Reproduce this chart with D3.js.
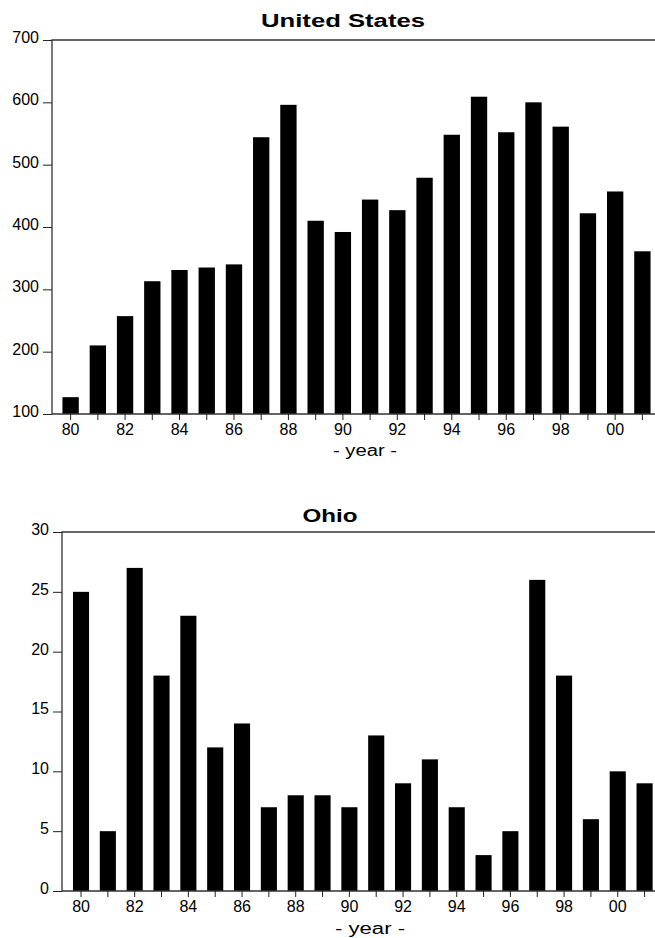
<!DOCTYPE html>
<meta charset="utf-8">
<head>
<style>
body {margin:0; background:#fff;}
svg text {font-family: "Liberation Sans", Arial, sans-serif; fill:#000;}
.title {font-weight:bold; font-size:18px;}
.axis text {font-size:16px;}
.axis line {stroke:#222;}
.frame {stroke:#333; stroke-width:1.3; fill:none;}
</style>
</head>
<body>
<div id="chart"></div>
<script src="https://d3js.org/d3.v7.min.js"></script>
<script>

// data
const years = d3.range(1980, 2002);
const usValues = [127, 210, 257, 313, 331, 335, 340, 544, 596, 410, 392,
                  444, 427, 479, 548, 609, 552, 600, 561, 422, 457, 361];
const ohioValues = [25, 5, 27, 18, 23, 12, 14, 7, 8, 8, 7,
                    13, 9, 11, 7, 3, 5, 26, 18, 6, 10, 9];
const usTicks = [100, 200, 300, 400, 500, 600, 700];
const ohioTicks = [0, 5, 10, 15, 20, 25, 30];

const svg = d3.select('#chart').append('svg')
  .attr('width', 655)
  .attr('height', 938);

// draws one panel
function panel(opt) {
  const g = svg.append('g');

  const x = d3.scaleBand()
    .domain(years)
    .range([opt.x0, opt.x1])
    .paddingInner(0.4)
    .paddingOuter(0.2);

  const y = d3.scaleLinear()
    .domain(opt.domain)
    .range([opt.bottom, opt.top]);

  g.selectAll('rect')
    .data(opt.values)
    .enter()
    .append('rect')
    .attr('x', (d, i) => x(years[i]))
    .attr('width', x.bandwidth())
    .attr('y', d => y(d))
    .attr('height', d => y(opt.domain[0]) - y(d))
    .attr('fill', '#000');

  // left, top and bottom lines
  g.append('path')
    .attr('class', 'frame')
    .attr('d', `M655,${opt.top}H${opt.axisX}V${opt.bottom}H655`);

  const yAxis = g.append('g')
    .attr('class', 'axis')
    .attr('transform', `translate(${opt.axisX},0)`)
    .call(d3.axisLeft(y).tickValues(opt.ticks).tickSize(9).tickPadding(4).tickFormat(d3.format('d')));
  yAxis.select('.domain').remove();
  yAxis.selectAll('text').attr('dy', '0.15em');

  const xAxis = g.append('g')
    .attr('class', 'axis')
    .attr('transform', `translate(0,${opt.bottom})`)
    .call(d3.axisBottom(x).tickSize(6).tickPadding(5)
      .tickFormat(d => d % 2 === 0 ? String(d).slice(2) : ''));
  xAxis.select('.domain').remove();
  xAxis.selectAll('text').attr('dy', '0.62em');

  g.append('text')
    .attr('class', 'title')
    .attr('x', opt.titleX)
    .attr('y', opt.titleY)
    .attr('text-anchor', 'middle')
    .attr('textLength', opt.titleW)
    .attr('lengthAdjust', 'spacingAndGlyphs')
    .text(opt.title);

  g.append('text')
    .attr('x', opt.labelX)
    .attr('y', opt.labelY)
    .attr('text-anchor', 'middle')
    .attr('textLength', opt.labelW)
    .attr('lengthAdjust', 'spacingAndGlyphs')
    .style('font-size', '16px')
    .text('- year -');
}

panel({
  title: 'United States', titleX: 343, titleY: 27, titleW: 164,
  values: usValues, ticks: usTicks, domain: [100, 700],
  axisX: 52, x0: 57, x1: 656, top: 40, bottom: 414,
  labelX: 365, labelY: 456, labelW: 64
});

panel({
  title: 'Ohio', titleX: 330, titleY: 522, titleW: 55,
  values: ohioValues, ticks: ohioTicks, domain: [0, 30],
  axisX: 62, x0: 67.6, x1: 658, top: 532, bottom: 891,
  labelX: 370, labelY: 934, labelW: 70
});

</script>
</body>
</html>
